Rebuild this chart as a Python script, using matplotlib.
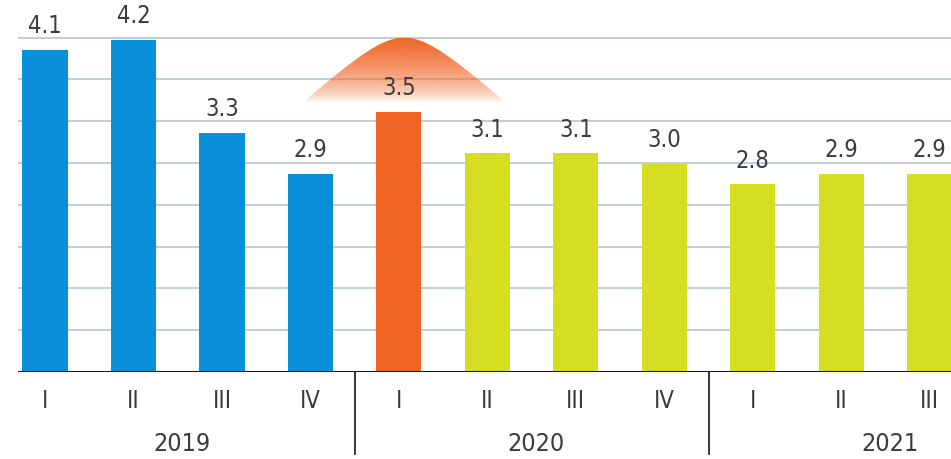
import numpy as np
import matplotlib
matplotlib.use("Agg")
import matplotlib.pyplot as plt
from matplotlib.patches import Polygon
import matplotlib.transforms as mtransforms

plt.rcParams['font.family'] = ['DejaVu Sans']
plt.rcParams['font.stretch'] = 'condensed'

quarters = ['I', 'II', 'III', 'IV', 'I', 'II', 'III', 'IV', 'I', 'II', 'III']
years = ['2019', '2020', '2021']
year_start = [0, 4, 8]
values = [4.1, 4.2, 3.3, 2.9, 3.5, 3.1, 3.1, 3.0, 2.8, 2.9, 2.9]
kinds = ['fact', 'fact', 'fact', 'fact', 'peak', 'fcst', 'fcst', 'fcst', 'fcst', 'fcst', 'fcst']

colors = {'fact': '#0a8fd9', 'peak': '#f26424', 'fcst': '#d5de21'}
text_col = '#3c3c3c'
grid_col = '#c3cdd8'

fig = plt.figure(figsize=(9.51, 4.60), dpi=100)
ax = fig.add_axes([18 / 951, 87 / 460, 1 - 18 / 951, 373 / 460])

x = np.arange(len(values))
y0, y1 = 0.98, 4.594
ax.set_xlim(-0.305, 10.24)
ax.set_ylim(y0, y1)

# grid lines
step = 0.405
for k in range(1, 9):
    ax.axhline(y0 + k * step, color=grid_col, lw=1.4, zorder=1)

# dome behind the peak bar
top = y0 + 8 * step
bh = 0.62
cx = 4.06
bx = np.linspace(cx - 1.15, cx + 1.15, 300)
by = top - 0.33 * (np.sqrt(1 + ((bx - cx) / 0.42) ** 2) - 1)
base = top - bh
by = np.maximum(by, base)
poly = Polygon(np.column_stack([np.r_[bx, bx[-1], bx[0]],
                                np.r_[by, base, base]]),
               closed=True, facecolor='none', edgecolor='none')
ax.add_patch(poly)
grad = np.zeros((100, 2, 4))
grad[..., 0] = 0xf0 / 255
grad[..., 1] = 0x66 / 255
grad[..., 2] = 0x26 / 255
alpha = np.linspace(1.0, 0.0, 100) ** 0.6
grad[..., 3] = alpha[:, None]
im = ax.imshow(grad, extent=[bx[0], bx[-1], base, top], origin='upper',
               aspect='auto', zorder=2, interpolation='bilinear')
im.set_clip_path(poly)

ax.bar(x, values, width=0.51, color=[colors[k] for k in kinds], zorder=3)

for xi, v in zip(x, values):
    ax.annotate(f'{v:.1f}', (xi, v), xytext=(0, 9), textcoords='offset points',
                ha='center', va='bottom', fontsize=17, color=text_col, zorder=4)

# baseline
ax.axhline(y0, color='#1a1a1a', lw=2.2, zorder=5)

for s in ax.spines.values():
    s.set_visible(False)
ax.set_xticks([])
ax.set_yticks([])

trans = mtransforms.blended_transform_factory(ax.transData, ax.transAxes)
for xi, q in zip(x, quarters):
    ax.text(xi, -0.075, q, transform=trans, ha='center', va='center',
            fontsize=17, color=text_col)
for st, yr in zip(year_start, years):
    ax.text(st + 1.55, -0.19, yr, transform=trans, ha='center', va='center',
            fontsize=18, color=text_col)
for st in year_start[1:]:
    ax.plot([st - 0.5, st - 0.5], [0, -0.22], transform=trans, color='#2a2a2a',
            lw=1.3, clip_on=False)

fig.savefig('out.png', dpi=100)
